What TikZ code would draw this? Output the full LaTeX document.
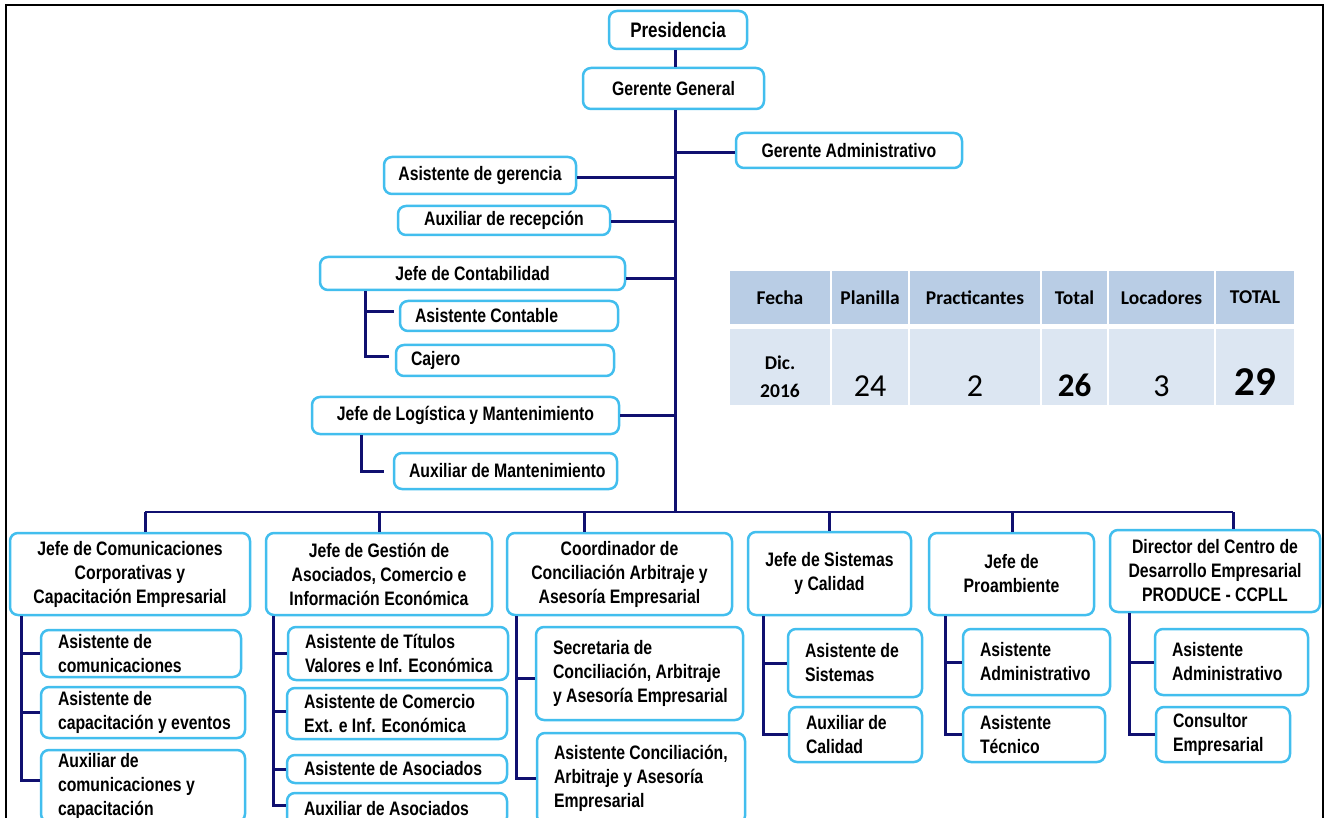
\documentclass[tikz,border=0pt]{standalone}
\usepackage{fontspec}
\setmainfont{Liberation Sans}[FakeStretch=0.81]
\newfontfamily\calib{Carlito}
\definecolor{boxc}{RGB}{66,190,238}
\definecolor{navyc}{RGB}{16,16,112}
\definecolor{hdr}{RGB}{185,205,229}
\definecolor{dat}{RGB}{220,230,242}
\newcommand\ml[1]{\mbox{\spaceskip=0pt\xspaceskip=0pt #1}}
% centered box: style, name, x1,y1,x2,y2, text
\newcommand\bx[7]{%
  \pgfmathsetmacro\myW{#5-#3}\pgfmathsetmacro\myH{#6-#4}%
  \pgfmathsetmacro\myX{(#3+#5)/2}\pgfmathsetmacro\myY{(#4+#6)/2}%
  \node[#1, minimum width=\myW pt, minimum height=\myH pt] (#2) at (\myX,\myY) {#7};}
% left aligned box with inset 17 (or given by style)
\newcommand\lx[7]{%
  \pgfmathsetmacro\myTW{#5-#3-34}\pgfmathsetmacro\myH{#6-#4}%
  \pgfmathsetmacro\myX{(#3+#5)/2}\pgfmathsetmacro\myY{(#4+#6)/2}%
  \node[box, align=left, inner xsep=17pt, text width=\myTW pt, minimum height=\myH pt, #1] (#2) at (\myX,\myY) {#7};}
\tikzset{
  box/.style={draw=boxc, line width=2.5pt, rounded corners=8pt, fill=white,
    font=\fontsize{19.5}{24}\selectfont\bfseries, inner sep=0pt, align=center},
  conn/.style={draw=navyc, line width=3pt},
  hcell/.style={fill=hdr, inner sep=0pt, font=\calib\fontsize{19.5}{24}\selectfont\bfseries},
  dcell/.style={fill=dat, inner sep=0pt},
  dtxt/.style={anchor=base, inner sep=0pt, font=\calib\fontsize{32}{36}\selectfont},
}
\begin{document}
\begin{tikzpicture}[x=1pt,y=-1pt]
\useasboundingbox (0,0) rectangle (1326,818);
\clip (0,0) rectangle (1326,818);
\fill[white] (0,0) rectangle (1326,818);
\draw[line width=2pt] (6,830) -- (6,5) -- (1323,5) -- (1323,830);

% ---- upper part ----
\bx{box, font=\fontsize{21}{24}\selectfont\bfseries}{pres}{609}{11}{747}{49}{Presidencia}
\bx{box}{gg}{583}{68}{764}{109}{Gerente General}
\bx{box}{ga}{736}{133}{962}{168}{Gerente Administrativo}
\bx{box}{ag}{384}{157}{576}{194}{Asistente de gerencia}
\bx{box}{ar}{398}{206}{610}{235}{Auxiliar de recepción}
\bx{box}{jc}{320}{257}{625}{290}{Jefe de Contabilidad}
\lx{inner xsep=15pt}{ac}{398}{301}{620}{331}{\ml{Asistente Contable}}
\lx{inner xsep=15pt}{caj}{394}{345}{616}{376}{\ml{Cajero}}
\bx{box}{jl}{312}{397}{619}{434}{Jefe de Logística y Mantenimiento}
\lx{inner xsep=15pt}{am}{392}{453}{619}{489}{\ml{Auxiliar de Mantenimiento}}

\coordinate (spine) at (675,512);
\draw[conn] (pres.south -| spine) -- (gg.north -| spine);
\draw[conn] (gg.south -| spine) -- (spine);
\draw[conn] ([yshift=-2.5pt]ga.west) -- ([yshift=-2.5pt]ga.west -| spine);
\draw[conn] ([yshift=-2.5pt]ag.east) -- ([yshift=-2.5pt]ag.east -| spine);
\draw[conn] ([yshift=-1.5pt]ar.east) -- ([yshift=-1.5pt]ar.east -| spine);
\draw[conn] ([yshift=-5pt]jc.east) -- ([yshift=-5pt]jc.east -| spine);
\draw[conn] (jl.east) -- (jl.east -| spine);
\coordinate (jcx) at ([xshift=47pt]jc.south west);
\draw[conn, shorten >=5pt] (jcx) |- ([yshift=4pt]ac.west);
\draw[conn, shorten >=6pt] (jcx) |- ([yshift=4pt]caj.west);
\coordinate (jlx) at ([xshift=51pt]jl.south west);
\draw[conn, shorten >=9pt] (jlx) |- (am.west);

% ---- table ----
\node[hcell, minimum width=100pt, minimum height=53pt] (hf) at (780,297.5) {Fecha};
\node[hcell, minimum width=76pt, minimum height=53pt] (hp) at (870,297.5) {Planilla};
\node[hcell, minimum width=130pt, minimum height=53pt] (hpr) at (975,297.5) {Practicantes};
\node[hcell, minimum width=65pt, minimum height=53pt] (ht) at (1074.5,297.5) {Total};
\node[hcell, minimum width=105pt, minimum height=53pt] (hl) at (1161.5,297.5) {Locadores};
\node[hcell, minimum width=78pt, minimum height=53pt] (hT) at (1255,297.5) {TOTAL};
\node[dcell, minimum width=100pt, minimum height=76pt] (df) at (780,367) {};
\node[dcell, minimum width=76pt, minimum height=76pt] (dp) at (870,367) {};
\node[dcell, minimum width=130pt, minimum height=76pt] (dpr) at (975,367) {};
\node[dcell, minimum width=65pt, minimum height=76pt] (dt) at (1074.5,367) {};
\node[dcell, minimum width=105pt, minimum height=76pt] (dl) at (1161.5,367) {};
\node[dcell, minimum width=78pt, minimum height=76pt] (dT) at (1255,367) {};
\node[dtxt, font=\calib\fontsize{19.5}{24}\selectfont\bfseries] (vdic) at (780,369.5) {Dic.};
\node[dtxt, font=\calib\fontsize{19.5}{24}\selectfont\bfseries] (vyr) at (780,397) {2016};
\node[dtxt] (v24) at (870,396.5) {24};
\node[dtxt] (v2) at (975,396.5) {2};
\node[dtxt, font=\calib\fontsize{33}{36}\selectfont\bfseries] (v26) at (1074.5,396.5) {26};
\node[dtxt] (v3) at (1161.5,396.5) {3};
\node[dtxt, font=\calib\fontsize{41}{44}\selectfont\bfseries] (v29) at (1255,395.5) {29};

% ---- lower part ----
\bx{box}{cj1}{10}{533}{250}{615}{Jefe de Comunicaciones\\Corporativas y\\Capacitación Empresarial}
\bx{box}{cj2}{266}{533}{492}{615}{Jefe de Gestión de\\Asociados, Comercio e\\Información Económica}
\bx{box}{cj3}{507}{533}{732}{615}{Coordinador de\\Conciliación Arbitraje y\\Asesoría Empresarial}
\bx{box}{cj4}{748}{532}{911}{615}{Jefe de Sistemas\\y Calidad}
\bx{box}{cj5}{929}{533}{1094}{615}{Jefe de\\Proambiente}
\bx{box}{cj6}{1110}{530}{1320}{612}{Director del Centro de\\Desarrollo Empresarial\\PRODUCE - CCPLL}

\coordinate (d1) at (145,512);
\coordinate (d2) at (379,512);
\coordinate (d3) at (584,512);
\coordinate (d4) at (829,512);
\coordinate (d5) at (1012,512);
\coordinate (d6) at (1233,512);
\draw[conn, line width=2.6pt] (d1) -- (d6);
\draw[conn] (d1) -- (d1 |- cj1.north);
\draw[conn] (d2) -- (d2 |- cj2.north);
\draw[conn] (d3) -- (d3 |- cj3.north);
\draw[conn] (d4) -- (d4 |- cj4.north);
\draw[conn] (d5) -- (d5 |- cj5.north);
\draw[conn] (d6) -- (d6 |- cj6.north);

\lx{}{c1a}{41}{630}{241}{677}{\ml{Asistente de}\\\ml{comunicaciones}}
\lx{}{c1b}{41}{687}{245}{738}{\ml{Asistente de}\\\ml{capacitación y eventos}}
\lx{}{c1c}{41}{750}{245}{822}{\ml{Auxiliar de}\\\ml{comunicaciones y}\\\ml{capacitación}}
\lx{}{c2a}{288}{627}{508}{680}{\ml{Asistente de Títulos}\\\ml{Valores e Inf. Económica}}
\lx{}{c2b}{287}{688}{507}{739}{\ml{Asistente de Comercio}\\\ml{Ext. e Inf. Económica}}
\lx{}{c2c}{287}{755}{507}{783}{\ml{Asistente de Asociados}}
\lx{}{c2d}{287}{793}{507}{825}{\ml{Auxiliar de Asociados}}
\lx{}{c3a}{536}{627}{743}{720}{\ml{Secretaria de}\\\ml{Conciliación, Arbitraje}\\\ml{y Asesoría Empresarial}}
\lx{}{c3b}{537}{733}{745}{824}{\ml{Asistente Conciliación,}\\\ml{Arbitraje y Asesoría}\\\ml{Empresarial}}
\lx{}{c4a}{788}{629}{922}{697}{\ml{Asistente de}\\\ml{Sistemas}}
\lx{}{c4b}{789}{707}{922}{762}{\ml{Auxiliar de}\\\ml{Calidad}}
\lx{}{c5a}{963}{629}{1110}{695}{\ml{Asistente}\\\ml{Administrativo}}
\lx{}{c5b}{963}{707}{1105}{762}{\ml{Asistente}\\\ml{Técnico}}
\lx{}{c6a}{1155}{629}{1308}{695}{\ml{Asistente}\\\ml{Administrativo}}
\lx{}{c6b}{1156}{707}{1290}{762}{\ml{Consultor}\\\ml{Empresarial}}

\coordinate (v1) at ([xshift=13pt]cj1.south west);
\draw[conn] (v1) |- (c1a.west);
\draw[conn] (v1) |- (c1b.west);
\draw[conn] (v1) |- ([yshift=6pt]c1c.west);
\coordinate (v2) at ([xshift=9pt]cj2.south west);
\draw[conn] (v2) |- (c2a.west);
\draw[conn] (v2) |- ([yshift=2pt]c2b.west);
\draw[conn] (v2) |- (c2c.west);
\draw[conn] (v2) |- ([yshift=4pt]c2d.west);
\coordinate (v3) at ([xshift=11pt]cj3.south west);
\draw[conn] (v3) |- ([yshift=-5pt]c3a.west);
\draw[conn] (v3) |- (c3b.west);
\coordinate (v4) at ([xshift=17pt]cj4.south west);
\draw[conn] (v4) |- (c4a.west);
\draw[conn] (v4) |- (c4b.west);
\coordinate (v5) at ([xshift=18pt]cj5.south west);
\draw[conn] (v5) |- (c5a.west);
\draw[conn] (v5) |- (c5b.west);
\coordinate (v6) at ([xshift=21pt]cj6.south west);
\draw[conn] (v6) |- (c6a.west);
\draw[conn] (v6) |- (c6b.west);
\end{tikzpicture}
\end{document}
